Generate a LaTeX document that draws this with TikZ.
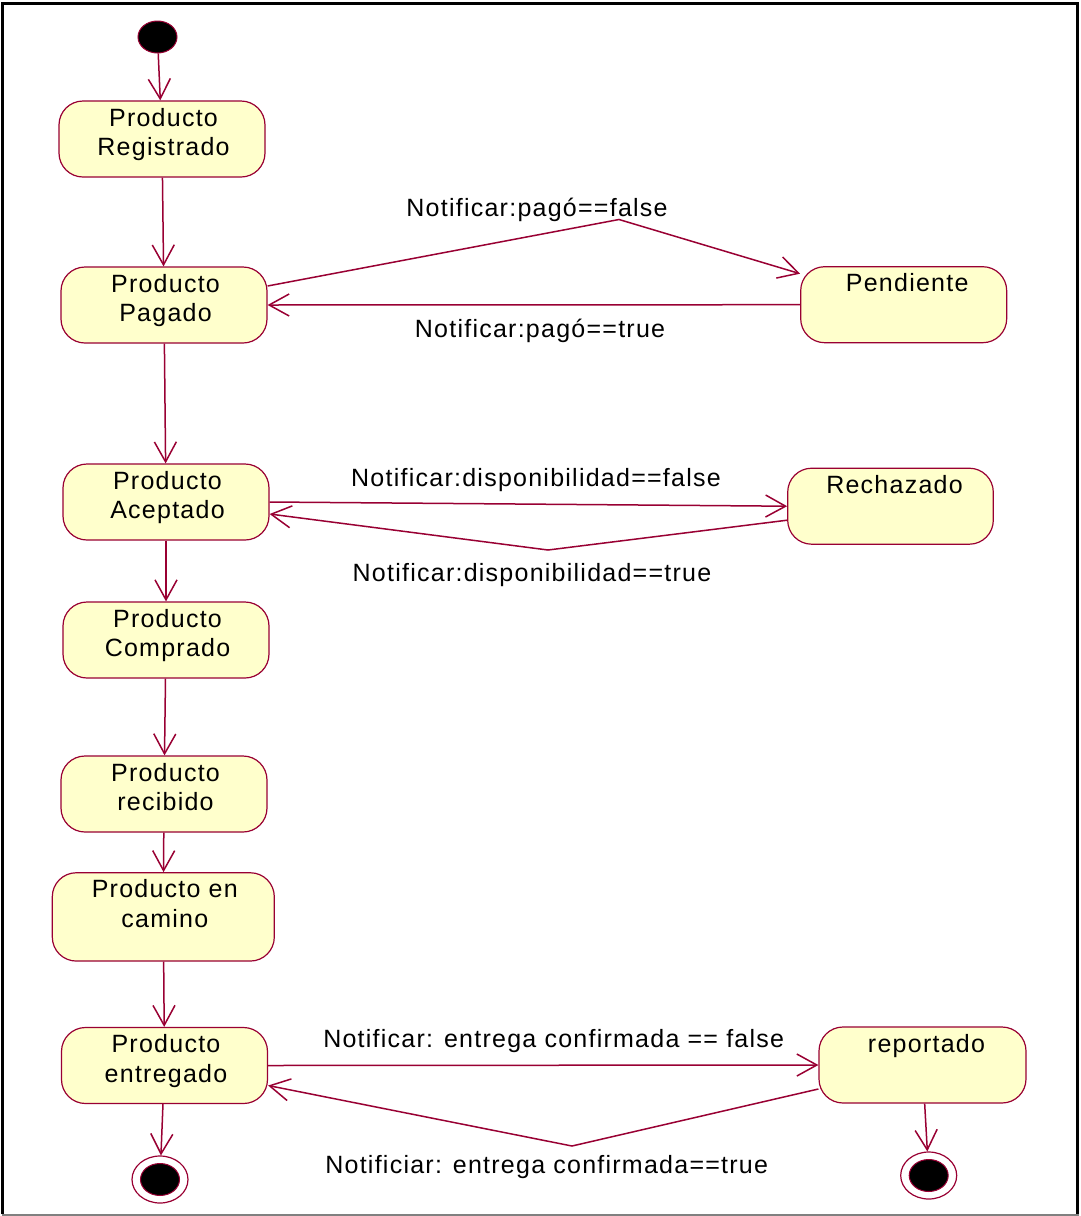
\documentclass[tikz,border=0pt]{standalone}
\usepackage{fontspec}
\setmainfont{Liberation Sans}[LetterSpace=5]
\usetikzlibrary{arrows.meta,shapes.geometric}
\definecolor{wire}{RGB}{153,0,51}
\definecolor{statefill}{RGB}{255,255,204}
\begin{document}
\begin{tikzpicture}[x=1pt,y=-1pt,
  txt/.style={font=\fontsize{25}{29.5}\selectfont, inner sep=0pt, align=center},
  state/.style={draw=wire, fill=statefill, line width=1.2pt, rounded corners=24pt,
    minimum width=206pt, minimum height=76pt, inner sep=0pt},
  statetext/.style={txt, anchor=north},
  flow/.style={draw=wire, line width=1.5pt, -{Straight Barb[length=20pt,width=22pt]}},
  guard/.style={txt, anchor=base},
  startdot/.style={ellipse, draw=wire, fill=black, line width=1pt,
    minimum width=39pt, minimum height=32pt, inner sep=0pt},
  endring/.style={ellipse, draw=wire, fill=white, line width=1.2pt,
    minimum width=56pt, minimum height=47pt, inner sep=0pt},
  enddot/.style={ellipse, draw=wire, fill=black, line width=1pt,
    minimum width=39pt, minimum height=32pt, inner sep=0pt},
]
\fill[white] (0,0) rectangle (1080,1216);
\useasboundingbox (0,0) rectangle (1080,1216);

% outer frame
\draw[black, line width=3pt] (2.5,1214) -- (2.5,3) -- (1077.5,3) -- (1077.5,1214);
\draw[gray, line width=2pt] (1.5,1214.5) -- (1078.5,1214.5);

% states
\node[startdot] (init) at (157.5,37) {};

\node[state] (reg) at (162,139) {};
\node[statetext] (regT) at ([xshift=1.5pt,yshift=-7.5pt]reg.north) {Producto\\Registrado};

\node[state] (pag) at (164,305) {};
\node[statetext] (pagT) at ([xshift=1.5pt,yshift=-7.5pt]pag.north) {Producto\\Pagado};

\node[state] (pen) at (903.7,304.7) {};
\node[statetext] (penT) at ([xshift=3.5pt,yshift=-7.5pt]pen.north) {Pendiente};

\node[state] (acc) at (166,502) {};
\node[statetext] (accT) at ([xshift=1.5pt,yshift=-7.5pt]acc.north) {Producto\\Aceptado};

\node[state, minimum width=205.6pt] (rec) at (890.5,506.2) {};
\node[statetext] (recT) at ([xshift=4pt,yshift=-7.5pt]rec.north) {Rechazado};

\node[state] (com) at (166,640) {};
\node[statetext] (comT) at ([xshift=1.5pt,yshift=-7.5pt]com.north) {Producto\\Comprado};

\node[state] (rcb) at (164,794) {};
\node[statetext] (rcbT) at ([xshift=1.5pt,yshift=-7.5pt]rcb.north) {Producto\\recibido};

\node[state, minimum width=222pt, minimum height=88.3pt] (cam) at (163.3,916.9) {};
\node[statetext] (camT) at ([xshift=1.5pt,yshift=-7.5pt]cam.north) {Producto en\\camino};

\node[state] (ent) at (164.5,1065.5) {};
\node[statetext] (entT) at ([xshift=1.5pt,yshift=-7.5pt]ent.north) {Producto\\entregado};

\node[state, minimum width=207pt] (rep) at (922.5,1065) {};
\node[statetext] (repT) at ([xshift=4pt,yshift=-7.5pt]rep.north) {reportado};

\node[endring] (fin1) at (160,1179.5) {};
\node[enddot] (fin1c) at (fin1) {};
\node[endring] (fin2) at (928.7,1175.5) {};
\node[enddot] (fin2c) at (fin2) {};

% bend points of the guarded transitions
\coordinate (pk1) at (619,219.5);
\coordinate (vl1) at (548,550);
\coordinate (vl2) at (572,1146);

% transitions
\draw[flow] (init) -- (reg);
\draw[flow] (reg) -- (pag);
\draw[flow] ([yshift=19pt]pag.east) -- (pk1) -- ([yshift=31pt]pen.west);
\draw[flow] (pen.west) -- (pag.east);
\draw[flow] (pag) -- (acc);
\draw[flow] (acc.east) -- (rec.west);
\draw[flow] ([yshift=-14pt]rec.west) -- (vl1) -- ([yshift=-12pt]acc.east);
\draw[flow] (acc) -- (com);
\draw[flow] (com) -- (rcb);
\draw[flow] (rcb) -- (cam);
\draw[flow] (cam) -- (ent);
\draw[flow] (ent.east) -- (rep.west);
\draw[flow] ([yshift=-24pt]rep.west) -- (vl2) -- ([yshift=-20pt]ent.east);
\draw[flow] (ent) -- (fin1);
\draw[flow] (rep) -- (fin2);

% guard labels
\node[guard] (g1) at (537,216.7) {Notificar:pagó==false};
\node[guard] (g2) at (540,337.7) {Notificar:pagó==true};
\node[guard] (g3) at (536,486.5) {Notificar:disponibilidad==false};
\node[guard] (g4) at (532,581.5) {Notificar:disponibilidad==true};
\node[guard] (g5) at (553.7,1047.3) {Notificar: entrega confirmada == false};
\node[guard] (g6) at (546.7,1173.3) {Notificiar: entrega confirmada==true};
\end{tikzpicture}
\end{document}
